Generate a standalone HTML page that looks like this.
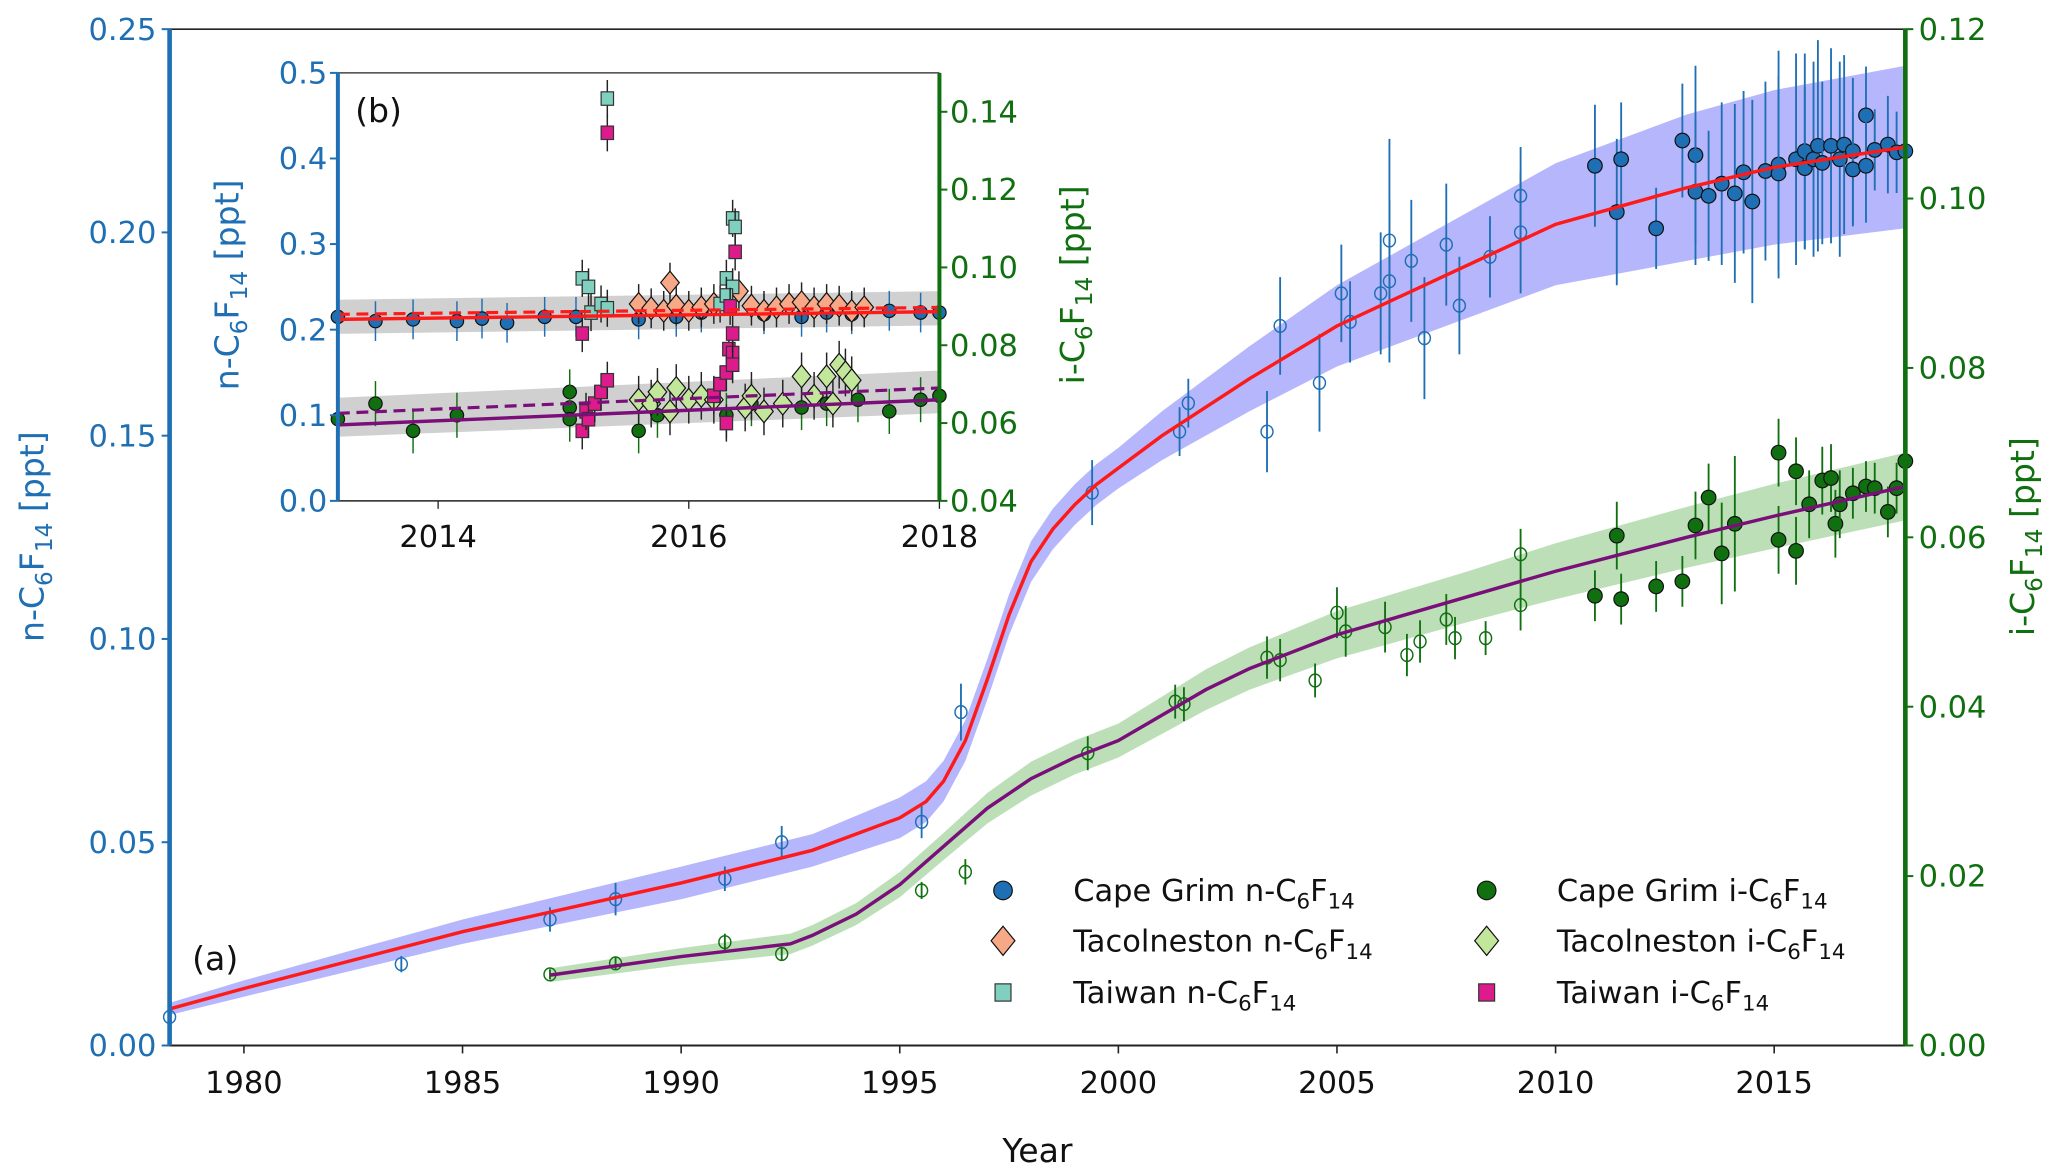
<!DOCTYPE html>
<html><head><meta charset="utf-8"><style>
html,body{margin:0;padding:0;background:#fff}
svg{display:block}
text{font-family:"DejaVu Sans","Liberation Sans",sans-serif}
</style></head><body>
<svg id="c" width="2067" height="1176" viewBox="0 0 1560 887.5" preserveAspectRatio="none" xmlns="http://www.w3.org/2000/svg"></svg>
<script>
// ---------- main panel data ----------
const nCurveYears=[1978.3,1980,1985,1990,1993,1995,1995.6,1996,1996.5,1997,1997.5,1998,1998.5,1999,1999.5,2000,2001,2002,2003,2005,2008,2010,2013,2015,2018];
const nCurveVals=[0.009,0.014,0.028,0.040,0.048,0.056,0.060,0.065,0.075,0.090,0.106,0.119,0.127,0.133,0.138,0.142,0.150,0.157,0.164,0.177,0.192,0.202,0.211,0.216,0.221];
const nBandHalf=[0.0015,0.002,0.003,0.004,0.004,0.005,0.005,0.005,0.005,0.005,0.005,0.005,0.005,0.005,0.005,0.005,0.006,0.007,0.008,0.010,0.013,0.015,0.018,0.019,0.020];
const iCurveYears=[1987,1990,1992.5,1993,1994,1995,1996,1997,1998,1999,2000,2001,2002,2003,2005,2008,2010,2013,2015,2018];
const iCurveVals=[0.0083,0.0105,0.012,0.013,0.0155,0.019,0.0235,0.028,0.0315,0.034,0.036,0.039,0.042,0.0445,0.0485,0.053,0.056,0.060,0.0625,0.066];
const iBandHalf=[0.0008,0.001,0.0012,0.0012,0.0013,0.0015,0.0016,0.0018,0.002,0.002,0.002,0.0022,0.0024,0.0025,0.0028,0.003,0.0033,0.0036,0.0038,0.004];
const cgnArchYears=[1978.3,1983.6,1987.0,1988.5,1991.0,1992.3,1995.5,1996.4,1999.4,2001.4,2001.6,2003.4,2003.7,2004.6,2005.1,2005.3,2006.0,2006.2,2006.2,2006.7,2007.0,2007.5,2007.8,2008.5,2009.2,2009.2];
const cgnArchVals=[0.007,0.020,0.031,0.036,0.041,0.050,0.055,0.082,0.136,0.151,0.158,0.151,0.177,0.163,0.185,0.178,0.185,0.188,0.198,0.193,0.174,0.197,0.182,0.194,0.200,0.209];
const cgnArchErr=[0.002,0.002,0.003,0.004,0.003,0.004,0.004,0.007,0.008,0.006,0.006,0.010,0.012,0.012,0.012,0.010,0.015,0.020,0.025,0.015,0.015,0.015,0.012,0.010,0.015,0.012];
const cgnYears=[2010.9,2011.4,2011.5,2012.3,2012.9,2013.2,2013.2,2013.5,2013.8,2014.1,2014.3,2014.5,2014.8,2015.1,2015.1,2015.5,2015.7,2015.7,2015.9,2016.0,2016.1,2016.3,2016.5,2016.6,2016.8,2016.8,2017.1,2017.1,2017.3,2017.6,2017.8,2018.0];
const cgnVals=[0.2164,0.205,0.218,0.201,0.2226,0.219,0.210,0.209,0.212,0.2096,0.2148,0.2076,0.2151,0.2167,0.2145,0.218,0.220,0.2158,0.218,0.2213,0.2171,0.2213,0.218,0.2216,0.220,0.2155,0.2288,0.2164,0.2203,0.2216,0.2197,0.220];
const cgnErr=[0.015,0.018,0.014,0.010,0.014,0.022,0.018,0.016,0.020,0.022,0.020,0.025,0.022,0.028,0.024,0.026,0.024,0.020,0.024,0.026,0.020,0.024,0.024,0.022,0.018,0.014,0.012,0.014,0.010,0.012,0.010,0.008];
const cgiArchYears=[1987.0,1988.5,1991.0,1992.3,1995.5,1996.5,1999.3,2001.3,2001.5,2003.4,2003.7,2004.5,2005.0,2005.2,2006.1,2006.6,2006.9,2007.5,2007.7,2008.4,2009.2,2009.2];
const cgiArchVals=[0.0084,0.0097,0.0122,0.0108,0.0183,0.0205,0.0345,0.0406,0.0403,0.0458,0.0455,0.0431,0.0511,0.0489,0.0494,0.0461,0.0477,0.0503,0.0481,0.0481,0.052,0.058];
const cgiArchErr=[0.0006,0.0008,0.0010,0.0008,0.0010,0.0015,0.0020,0.0020,0.0020,0.0025,0.0025,0.0020,0.0030,0.0030,0.0030,0.0025,0.0025,0.0030,0.0025,0.0020,0.0030,0.0030];
const cgiYears=[2010.9,2011.4,2011.5,2012.3,2012.9,2013.2,2013.5,2013.8,2014.1,2015.1,2015.1,2015.5,2015.5,2015.8,2016.1,2016.3,2016.4,2016.5,2016.8,2017.1,2017.3,2017.6,2017.8,2018.0];
const cgiVals=[0.0531,0.0602,0.0527,0.0542,0.0548,0.0614,0.0647,0.0581,0.0616,0.070,0.0597,0.0678,0.0584,0.0639,0.0667,0.067,0.0616,0.0639,0.0652,0.066,0.0658,0.063,0.0658,0.069];
const cgiErr=[0.003,0.004,0.003,0.003,0.003,0.004,0.004,0.006,0.008,0.004,0.004,0.004,0.004,0.004,0.004,0.004,0.004,0.004,0.003,0.003,0.003,0.003,0.003,0.002];
const mainXTicks=[1980,1985,1990,1995,2000,2005,2010,2015];
const mainLTicks=["0.00","0.05","0.10","0.15","0.20","0.25"];
const mainRTicks=["0.00","0.02","0.04","0.06","0.08","0.10","0.12"];
// ---------- inset data ----------
const inXTicks=[2014,2016,2018];
const inLTicks=["0.0","0.1","0.2","0.3","0.4","0.5"];
const inRTicks=["0.04","0.06","0.08","0.10","0.12","0.14"];
const inLineYears=[2013.2,2018];
const inNSolid=[0.212,0.221];
const inNDash=[0.218,0.226];
const inNBandLo=[0.195,0.205];
const inNBandHi=[0.235,0.245];
const inISolid=[0.0595,0.0660];
const inIDash=[0.0625,0.0690];
const inIBandLo=[0.0565,0.0625];
const inIBandHi=[0.0665,0.0735];
const inCgnYears=[2013.2,2013.5,2013.8,2014.15,2014.35,2014.55,2014.85,2015.1,2015.6,2015.9,2016.1,2016.6,2016.9,2017.1,2017.3,2017.6,2017.85,2018.0];
const inCgnVals=[0.215,0.210,0.212,0.210,0.213,0.208,0.215,0.215,0.212,0.215,0.220,0.218,0.215,0.220,0.218,0.222,0.220,0.220];
const inTacnYears=[2015.6,2015.7,2015.8,2015.85,2015.9,2016.0,2016.1,2016.2,2016.4,2016.5,2016.6,2016.7,2016.8,2016.9,2017.0,2017.1,2017.2,2017.3,2017.4];
const inTacnVals=[0.230,0.225,0.222,0.255,0.228,0.222,0.226,0.230,0.245,0.228,0.222,0.226,0.230,0.232,0.226,0.230,0.228,0.222,0.226];
const inTwnYears=[2015.15,2015.2,2015.22,2015.3,2015.35,2015.35,2016.25,2016.3,2016.35,2016.35,2016.37,2016.3];
const inTwnVals=[0.26,0.25,0.22,0.23,0.225,0.47,0.23,0.26,0.25,0.33,0.32,0.24];
const inTwiYears=[2015.15,2015.15,2015.18,2015.2,2015.25,2015.3,2015.35,2015.35,2016.2,2016.25,2016.3,2016.32,2016.35,2016.35,2016.3,2016.35,2016.37,2016.33];
const inTwiVals=[0.083,0.058,0.063,0.061,0.065,0.068,0.071,0.1346,0.067,0.070,0.073,0.079,0.078,0.083,0.060,0.075,0.104,0.090];
const inTaciYears=[2015.6,2015.7,2015.75,2015.85,2015.9,2016.0,2016.1,2016.2,2016.45,2016.5,2016.6,2016.75,2016.9,2017.0,2017.1,2017.15,2017.2,2017.25,2017.3];
const inTaciVals=[0.066,0.065,0.068,0.063,0.069,0.066,0.067,0.066,0.064,0.067,0.063,0.065,0.072,0.067,0.072,0.065,0.075,0.073,0.071];
const inCgiYears=[2013.2,2013.5,2013.8,2014.15,2015.05,2015.05,2015.05,2015.6,2015.75,2016.3,2016.5,2016.9,2017.1,2017.35,2017.6,2017.85,2018.0];
const inCgiVals=[0.061,0.065,0.058,0.062,0.068,0.064,0.061,0.058,0.062,0.062,0.065,0.064,0.065,0.066,0.063,0.066,0.067];

const NS="http://www.w3.org/2000/svg";
const svg=document.getElementById('c');
function mk(tag,attrs,parent){const e=document.createElementNS(NS,tag);for(const k in attrs)e.setAttribute(k,attrs[k]);(parent||svg).appendChild(e);return e;}
const BLUE="#1f6fb4",GREEN="#107010";
const M={l:128,r:1438,t:22,b:789,x0:1978.3,x1:2018.0};
const mx=v=>M.l+(v-M.x0)/(M.x1-M.x0)*(M.r-M.l);
const myL=v=>M.b-v/0.25*(M.b-M.t);
const myR=v=>M.b-v/0.12*(M.b-M.t);
function poly(xs,ys,fx,fy){return xs.map((x,i)=>fx(x).toFixed(1)+','+fy(ys[i]).toFixed(1)).join(' ');}
function band(xs,lo,hi,fx,fy){const a=xs.map((x,i)=>fx(x).toFixed(1)+','+fy(lo[i]).toFixed(1));const b=xs.map((x,i)=>fx(x).toFixed(1)+','+fy(hi[i]).toFixed(1)).reverse();return a.concat(b).join(' ');}
const gMain=mk('g',{});


let e=mk('polygon',{points:band(nCurveYears,nCurveVals.map((v,i)=>v-nBandHalf[i]),nCurveVals.map((v,i)=>v+nBandHalf[i]),mx,myL),fill:'#a9a9fb',opacity:0.85},gMain);

e=mk('polygon',{points:band(iCurveYears,iCurveVals.map((v,i)=>v-iBandHalf[i]),iCurveVals.map((v,i)=>v+iBandHalf[i]),mx,myR),fill:'#b5dcb0',opacity:0.9},gMain);

function errPts(g,ys,vs,es,fx,fy,col,filled,name){
  ys.forEach((y,i)=>{
    const x=fx(y),cy=fy(vs[i]);
    let l=mk('line',{x1:x,x2:x,y1:fy(vs[i]-es[i]),y2:fy(vs[i]+es[i]),stroke:col,'stroke-width':1.4},g);
    
    let c=mk('ellipse',{cx:x,cy:cy,rx:filled?5.5:4.5,ry:filled?5.5:4.8,fill:filled?col:'none',stroke:filled?'#111':col,'stroke-width':filled?0.9:1.1},g);
    
  });
}
errPts(gMain,cgnArchYears,cgnArchVals,cgnArchErr,mx,myL,BLUE,false,'cape-grim-n-archive');
errPts(gMain,cgiArchYears,cgiArchVals,cgiArchErr,mx,myR,GREEN,false,'cape-grim-i-archive');
errPts(gMain,cgnYears,cgnVals,cgnErr,mx,myL,BLUE,true,'cape-grim-n');
errPts(gMain,cgiYears,cgiVals,cgiErr,mx,myR,GREEN,true,'cape-grim-i');
e=mk('polyline',{points:poly(nCurveYears,nCurveVals,mx,myL),fill:'none',stroke:'#ff1a1a','stroke-width':2.6},gMain);

e=mk('polyline',{points:poly(iCurveYears,iCurveVals,mx,myR),fill:'none',stroke:'#7a0f7a','stroke-width':2.6},gMain);

mk('line',{x1:M.l,x2:M.r,y1:M.t,y2:M.t,stroke:'#222','stroke-width':1.2});
mk('line',{x1:M.l,x2:M.r,y1:M.b,y2:M.b,stroke:'#222','stroke-width':1.5});
e=mk('line',{x1:M.l,x2:M.l,y1:M.t,y2:M.b,stroke:BLUE,'stroke-width':3.5});

e=mk('line',{x1:M.r,x2:M.r,y1:M.t,y2:M.b,stroke:GREEN,'stroke-width':3.5});

function txt(s,attrs,parent){const t=mk('text',attrs,parent);t.textContent=s;return t;}
mainXTicks.forEach(v=>{mk('line',{x1:mx(v),x2:mx(v),y1:M.b,y2:M.b+6,stroke:'#222','stroke-width':1.2});
  const t=txt(String(v),{x:mx(v),y:M.b+36,'font-size':23,'text-anchor':'middle',fill:'#111'});});
mainLTicks.forEach(s=>{const y=myL(parseFloat(s));mk('line',{x1:M.l-6,x2:M.l,y1:y,y2:y,stroke:BLUE,'stroke-width':1.5});
  const t=txt(s,{x:M.l-10,y:y+8,'font-size':23,'text-anchor':'end',fill:BLUE});});
mainRTicks.forEach(s=>{const y=myR(parseFloat(s));mk('line',{x1:M.r,x2:M.r+6,y1:y,y2:y,stroke:GREEN,'stroke-width':1.5});
  const t=txt(s,{x:M.r+10,y:y+8,'font-size':23,'text-anchor':'start',fill:GREEN});});
</script>
<script>
function lab(pre,post,x,y,size,col,rot,name){
  const t=mk('text',{x:x,y:y,'font-size':size,fill:col,'text-anchor':'middle',transform:rot?`rotate(${rot} ${x} ${y})`:''});
  
  const a=mk('tspan',{},t);a.textContent=pre+'C';
  const b=mk('tspan',{'font-size':size*0.7,dy:size*0.25},t);b.textContent='6';
  const c=mk('tspan',{dy:-size*0.25},t);c.textContent='F';
  const d=mk('tspan',{'font-size':size*0.7,dy:size*0.25},t);d.textContent='14';
  const f=mk('tspan',{dy:-size*0.25},t);f.textContent=post;
  return t;
}
lab('n-',' [ppt]',33,405,25,BLUE,-90,'left-axis-title');
lab('i-',' [ppt]',1535,405,25,GREEN,-90,'right-axis-title');
let yt=txt('Year',{x:783,y:877,'font-size':25,'text-anchor':'middle',fill:'#111'});

let pa=txt('(a)',{x:145,y:732,'font-size':25,fill:'#111'});

const lg=mk('g',{});
function marker(kind,x,y,fill,g,s){
  s=s||1;
  if(kind==='o')return mk('ellipse',{cx:x,cy:y,rx:7*s,ry:7*s,fill:fill,stroke:'#111','stroke-width':0.9},g);
  if(kind==='d')return mk('polygon',{points:`${x},${y-11*s} ${x+9*s},${y} ${x},${y+11*s} ${x-9*s},${y}`,fill:fill,stroke:'#111','stroke-width':0.9},g);
  return mk('rect',{x:x-6*s,y:y-6.5*s,width:12*s,height:13*s,fill:fill,stroke:'#333','stroke-width':0.9},g);
}
const legItems=[['o',BLUE,'Cape Grim n-',757,672],['d','#f7a886','Tacolneston n-',757,710],['s','#80d0c0','Taiwan n-',757,749],
['o',GREEN,'Cape Grim i-',1122,672],['d','#c2e69a','Tacolneston i-',1122,710],['s','#de1b8c','Taiwan i-',1122,749]];
legItems.forEach(it=>{const m=marker(it[0],it[3],it[4],it[1],lg);
  const t=lab(it[2],'',it[3]+53,it[4]+8,23,'#111',0,'legend-entry');t.setAttribute('text-anchor','start');t.removeAttribute('transform');lg.appendChild(t);});
const I={l:255,r:709,t:55,b:378,x0:2013.2,x1:2018.0};
const ix=v=>I.l+(v-I.x0)/(I.x1-I.x0)*(I.r-I.l);
const iyL=v=>I.b-v/0.5*(I.b-I.t);
const iyR=v=>I.b-(v-0.04)/0.11*(I.b-I.t);
const gi=mk('g',{});
mk('rect',{x:I.l,y:I.t,width:I.r-I.l,height:I.b-I.t,fill:'#fff'},gi);
mk('polygon',{points:band(inLineYears,inNBandLo,inNBandHi,ix,iyL),fill:'#c8c8c8',opacity:0.85},gi);
mk('polygon',{points:band(inLineYears,inIBandLo,inIBandHi,ix,iyR),fill:'#c8c8c8',opacity:0.85},gi);
function ipts(ys,vs,fy,kind,fill,err,name,s){
  ys.forEach((y,i)=>{const x=ix(y),cy=fy(vs[i]);
    const l=mk('line',{x1:x,x2:x,y1:cy-err,y2:cy+err,stroke:kind==='o'&&fill===GREEN?GREEN:(kind==='o'?BLUE:'#222'),'stroke-width':1.1},gi);
    
    const m=marker(kind,x,cy,fill,gi,s);});
}
ipts(inCgnYears,inCgnVals,iyL,'o',BLUE,15,'inset-cape-grim-n',0.72);
ipts(inCgiYears,inCgiVals,iyR,'o',GREEN,17,'inset-cape-grim-i',0.72);
ipts(inTaciYears,inTaciVals,iyR,'d','#c2e69a',18,'inset-tacolneston-i',0.78);
ipts(inTacnYears,inTacnVals,iyL,'d','#f7a886',15,'inset-tacolneston-n',0.78);
ipts(inTwnYears,inTwnVals,iyL,'s','#80d0c0',14,'inset-taiwan-n',0.78);
ipts(inTwiYears,inTwiVals,iyR,'s','#de1b8c',14,'inset-taiwan-i',0.78);
let l1=mk('polyline',{points:poly(inLineYears,inNSolid,ix,iyL),stroke:'#ff1a1a','stroke-width':2.6,fill:'none'},gi);

l1=mk('polyline',{points:poly(inLineYears,inNDash,ix,iyL),stroke:'#ff1a1a','stroke-width':2.4,fill:'none','stroke-dasharray':'9,5'},gi);

l1=mk('polyline',{points:poly(inLineYears,inISolid,ix,iyR),stroke:'#7a0f7a','stroke-width':2.6,fill:'none'},gi);

l1=mk('polyline',{points:poly(inLineYears,inIDash,ix,iyR),stroke:'#7a0f7a','stroke-width':2.4,fill:'none','stroke-dasharray':'9,5'},gi);

mk('line',{x1:I.l,x2:I.r,y1:I.t,y2:I.t,stroke:'#222','stroke-width':1},gi);
mk('line',{x1:I.l,x2:I.r,y1:I.b,y2:I.b,stroke:'#222','stroke-width':1.2},gi);
mk('line',{x1:I.l,x2:I.l,y1:I.t,y2:I.b,stroke:BLUE,'stroke-width':3},gi);
mk('line',{x1:I.r,x2:I.r,y1:I.t,y2:I.b,stroke:GREEN,'stroke-width':3},gi);
inXTicks.forEach(v=>{mk('line',{x1:ix(v),x2:ix(v),y1:I.b,y2:I.b+6,stroke:'#222'},gi);
  const t=txt(String(v),{x:ix(v),y:I.b+35,'font-size':23,'text-anchor':'middle',fill:'#111'},gi);});
inLTicks.forEach(s=>{const y=iyL(parseFloat(s));mk('line',{x1:I.l-6,x2:I.l,y1:y,y2:y,stroke:BLUE,'stroke-width':1.5},gi);
  const t=txt(s,{x:I.l-8,y:y+8,'font-size':23,'text-anchor':'end',fill:BLUE},gi);});
inRTicks.forEach(s=>{const y=iyR(parseFloat(s));mk('line',{x1:I.r,x2:I.r+6,y1:y,y2:y,stroke:GREEN,'stroke-width':1.5},gi);
  const t=txt(s,{x:I.r+8,y:y+8,'font-size':23,'text-anchor':'start',fill:GREEN},gi);});
gi.appendChild(lab('n-',' [ppt]',180,215,25,BLUE,-90,'inset-left-axis-title'));
gi.appendChild(lab('i-',' [ppt]',818,215,25,GREEN,-90,'inset-right-axis-title'));
let pb=txt('(b)',{x:268,y:92,'font-size':25,fill:'#111'},gi);

</script>
</body></html>
